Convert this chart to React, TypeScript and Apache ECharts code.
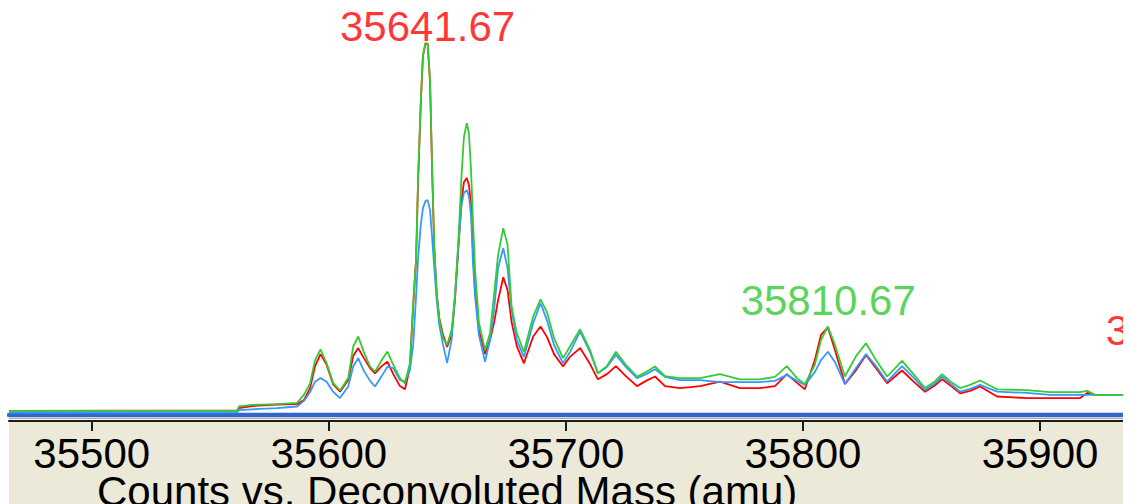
import React, { useEffect, useRef } from "react";
import * as echarts from "echarts";

const masses = [
  35465.1, 35561.3, 35562.1, 35567.6, 35578.2, 35586.6, 35589.5, 35592.1, 35594.2, 35596.5,
  35599.1, 35601.8, 35604.7, 35608.2, 35610.3, 35612.4, 35614.8, 35617.4, 35619.5, 35622.3,
  35624.7, 35627.2, 35630.0, 35632.1, 35634.2, 35635.6, 35636.8, 35637.7, 35638.8, 35639.7,
  35640.8, 35641.7, 35642.7, 35643.5, 35644.5, 35645.5, 35646.6, 35648.2, 35649.9, 35651.8,
  35653.2, 35654.6, 35656.0, 35657.0, 35658.2, 35659.1, 35660.0, 35660.8, 35661.7, 35663.3,
  35665.9, 35668.0, 35669.7, 35671.4, 35673.6, 35675.4, 35677.1, 35679.3, 35682.3, 35686.2,
  35689.3, 35692.0, 35695.0, 35698.8, 35701.7, 35706.0, 35710.2, 35713.5, 35717.3, 35721.1,
  35725.3, 35730.0, 35733.8, 35737.6, 35741.8, 35748.1, 35756.6, 35765.0, 35773.4, 35781.9,
  35788.2, 35793.2, 35797.5, 35800.8, 35805.0, 35807.6, 35810.5, 35813.5, 35817.7, 35822.4,
  35826.6, 35830.8, 35835.5, 35841.8, 35846.9, 35851.5, 35855.3, 35858.7, 35862.5, 35866.3,
  35870.5, 35874.7, 35881.9, 35894.5, 35904.2, 35916.9, 35919.9, 35923.2, 35935.0,
];

const greenCounts = [
  0.9, 0.9, 2.0, 2.4, 2.6, 2.9, 4.9, 7.8, 13.6, 16.3,
  12.8, 7.9, 6.0, 9.1, 17.0, 19.5, 15.6, 12.0, 10.7, 13.6,
  15.7, 12.4, 9.1, 7.8, 12.8, 27.8, 38.6, 59.9, 78.2, 89.9,
  92.8, 92.8, 83.6, 63.6, 42.0, 30.3, 23.6, 19.1, 17.4, 21.1,
  29.5, 42.8, 59.9, 69.4, 72.8, 70.3, 61.1, 48.6, 36.1, 23.1,
  16.1, 20.3, 29.9, 39.9, 46.6, 42.4, 27.0, 20.3, 15.7, 24.5,
  28.8, 25.6, 19.1, 14.1, 17.0, 21.3, 16.1, 10.3, 12.1, 15.7,
  12.4, 9.5, 10.6, 12.0, 9.6, 9.1, 9.1, 10.1, 8.8, 8.8,
  9.4, 12.1, 9.1, 7.6, 12.4, 18.6, 22.0, 17.4, 9.5, 14.6,
  17.8, 13.6, 9.5, 13.4, 9.9, 6.6, 8.1, 10.1, 8.1, 6.6,
  7.4, 8.5, 6.3, 6.1, 5.6, 5.6, 5.9, 4.9, 4.9,
];

const redCounts = [
  0.9, 1.0, 1.6, 2.1, 2.5, 2.6, 3.6, 6.6, 12.1, 15.1,
  12.4, 7.6, 5.7, 8.6, 14.6, 16.6, 14.1, 11.6, 10.3, 12.1,
  13.2, 10.1, 7.1, 6.3, 11.6, 27.4, 38.6, 59.1, 77.9, 89.6,
  92.8, 92.4, 83.1, 62.9, 41.1, 30.4, 24.1, 19.9, 16.9, 19.9,
  28.6, 41.1, 53.6, 58.1, 59.1, 57.4, 52.4, 41.1, 31.1, 21.1,
  15.1, 18.6, 22.9, 28.6, 34.3, 31.1, 23.1, 17.1, 12.8, 19.5,
  22.0, 19.4, 15.1, 12.0, 14.4, 16.6, 12.6, 8.8, 10.1, 12.1,
  9.6, 7.1, 8.4, 9.5, 7.1, 6.6, 7.1, 8.2, 6.6, 6.6,
  7.1, 10.1, 7.9, 6.3, 13.6, 19.9, 21.8, 16.1, 7.6, 11.1,
  14.9, 11.6, 7.8, 11.0, 8.1, 5.7, 7.1, 8.8, 7.1, 5.3,
  5.9, 7.0, 4.5, 4.1, 4.1, 4.1, 5.4, 4.9, 4.9,
];

const blueCounts = [
  0.5, 0.5, 1.1, 1.3, 1.6, 2.0, 3.4, 5.6, 8.2, 9.1,
  8.2, 5.7, 4.1, 7.0, 12.0, 14.1, 10.9, 8.4, 7.0, 9.6,
  11.9, 11.6, 8.6, 8.2, 11.1, 17.4, 29.5, 39.5, 47.4, 51.6,
  53.4, 53.6, 51.1, 44.9, 36.6, 28.6, 22.4, 17.4, 12.9, 18.6,
  29.5, 42.0, 52.4, 55.4, 56.1, 54.6, 49.9, 38.1, 29.5, 19.9,
  13.2, 18.6, 26.1, 36.6, 41.6, 36.6, 26.1, 18.6, 14.4, 22.8,
  27.8, 23.6, 17.4, 12.8, 15.6, 20.7, 15.6, 10.3, 11.9, 14.9,
  11.9, 9.1, 10.1, 11.3, 9.4, 8.6, 8.6, 8.1, 8.1, 8.1,
  8.4, 9.9, 8.4, 7.4, 10.6, 13.6, 15.7, 13.1, 7.6, 11.6,
  15.1, 12.1, 8.2, 12.1, 9.1, 6.1, 7.6, 9.5, 7.6, 5.7,
  6.4, 7.4, 5.7, 5.4, 4.9, 4.9, 4.9, 4.9, 4.9,
];

const tickMasses = [35500, 35600, 35700, 35800, 35900];
const peakLabelMasses = [35641.67, 35810.67, 35964.67];
const peakLabelHeights = [92.9, 24.4, 16.9];
const peakLabelColors = ["#ff0000", "#2ec82e", "#ff0000"];
const axisTitle = "Counts vs. Deconvoluted Mass (amu)";

const FONT = "Liberation Sans";

export default function App() {
  const ref = useRef<HTMLDivElement>(null);

  useEffect(() => {
    const chart = echarts.init(ref.current as HTMLDivElement, null, { renderer: "svg" });
    const pair = (vals: number[]) => masses.map((m, i) => [m, vals[i]]);

    chart.setOption({
      animation: false,
      backgroundColor: "#ffffff",
      grid: { left: 9, right: 0, top: 14.5, bottom: 89.5 },
      xAxis: [
        {
          type: "value",
          min: 35465.1,
          max: 35935,
          axisLine: { show: true, onZero: false, lineStyle: { color: "#3366cc", width: 4.4 } },
          axisTick: { show: false },
          axisLabel: { show: false },
          splitLine: { show: false },
        },
        {
          type: "value",
          min: 35465.1,
          max: 35935,
          position: "bottom",
          offset: 6.5,
          axisLine: { show: true, onZero: false, lineStyle: { color: "#1a1a1a", width: 2 } },
          axisTick: {
            show: true,
            customValues: tickMasses,
            length: 10,
            lineStyle: { color: "#1a1a1a", width: 2 },
          },
          axisLabel: {
            show: true,
            customValues: tickMasses,
            fontSize: 42,
            fontFamily: FONT,
            color: "#000000",
            margin: 11,
            formatter: (v: number) => String(v),
          },
          splitLine: { show: false },
        },
      ],
      yAxis: { type: "value", min: 0, max: 100, show: false },
      graphic: [
        {
          type: "rect",
          z: -1,
          silent: true,
          shape: { x: 9, y: 422, width: 1114, height: 82 },
          style: { fill: "#ece9d8" },
        },
        {
          type: "line",
          silent: true,
          shape: { x1: 9, y1: 418.5, x2: 1123, y2: 418.5 },
          style: { stroke: "#a8a8a8", lineWidth: 1 },
        },
        {
          type: "text",
          silent: true,
          x: 97,
          y: 491,
          style: {
            text: axisTitle,
            fontSize: 42,
            fontFamily: FONT,
            fill: "#000000",
            align: "left",
            verticalAlign: "middle",
          },
        },
      ],
      series: [
        {
          type: "line",
          name: "Red",
          data: pair(redCounts),
          showSymbol: false,
          symbol: "none",
          lineStyle: { color: "#ff0000", width: 1.8 },
          itemStyle: { color: "#ff0000" },
          z: 2,
        },
        {
          type: "line",
          name: "Blue",
          data: pair(blueCounts),
          showSymbol: false,
          symbol: "none",
          lineStyle: { color: "#3399ff", width: 1.8 },
          itemStyle: { color: "#3399ff" },
          z: 3,
        },
        {
          type: "line",
          name: "Green",
          data: pair(greenCounts),
          showSymbol: false,
          symbol: "none",
          lineStyle: { color: "#33cc33", width: 1.8 },
          itemStyle: { color: "#33cc33" },
          z: 4,
        },
        {
          type: "scatter",
          name: "Peaks",
          silent: true,
          clip: false,
          symbolSize: 0,
          z: 10,
          data: peakLabelMasses.map((m, i) => ({
            value: [m, peakLabelHeights[i]],
            label: { color: peakLabelColors[i] },
          })),
          label: {
            show: true,
            position: "top",
            distance: -5,
            fontSize: 42,
            fontFamily: FONT,
            formatter: (p: any) => Number(p.value[0]).toFixed(2),
          },
        },
      ],
    });

    return () => chart.dispose();
  }, []);

  return (
    <div
      ref={ref}
      style={{ position: "absolute", left: 0, top: 0, width: 1123, height: 504, overflow: "hidden" }}
    />
  );
}
